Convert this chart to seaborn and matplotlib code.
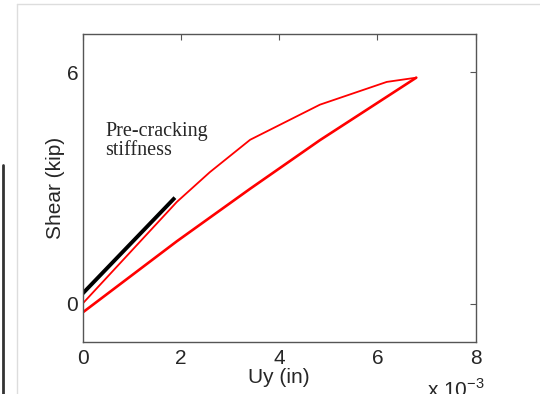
import matplotlib
matplotlib.use("Agg")
import matplotlib.pyplot as plt
import numpy as np
import pandas as pd
import seaborn as sns
from matplotlib.lines import Line2D

# loading branch (thin red), displacement in 1e-3 in
load_uy = [0.0, 1.92, 2.59, 3.41, 4.83, 6.19, 6.79]
load_shear = [0.0, 2.64, 3.41, 4.25, 5.16, 5.75, 5.86]

# unloading branch (thicker red)
unload_uy = [6.79, 4.83, 3.41, 1.92, 0.0]
unload_shear = [5.86, 4.24, 2.98, 1.62, -0.23]

# pre-cracking stiffness line (black)
stiff_uy = [0.0, 1.88]
stiff_shear = [0.26, 2.75]

x_ticks = [0, 2, 4, 6, 8]
y_ticks = [0, 6]

sns.set_style("white")
plt.rcParams["font.family"] = ["Liberation Sans", "DejaVu Sans"]

fig = plt.figure(figsize=(5.4, 3.94), dpi=100)
ax = fig.add_axes([0.1528, 0.1312, 0.7282, 0.7833])

d_load = pd.DataFrame({"uy": load_uy, "shear": load_shear})
d_unload = pd.DataFrame({"uy": unload_uy, "shear": unload_shear})
d_stiff = pd.DataFrame({"uy": stiff_uy, "shear": stiff_shear})

sns.lineplot(data=d_load, x="uy", y="shear", sort=False, color="red", linewidth=1.3, ax=ax)
sns.lineplot(data=d_unload, x="uy", y="shear", sort=False, color="red", linewidth=1.9, ax=ax)
sns.lineplot(data=d_stiff, x="uy", y="shear", sort=False, color="black", linewidth=2.8,
             solid_capstyle="butt", ax=ax)

ax.set_xlim(0, 8)
ax.set_ylim(-1, 7)
ax.set_xticks(x_ticks)
ax.set_yticks(y_ticks)
ax.tick_params(direction="in", length=4, width=0.8, color="#555555",
               top=True, right=True, labelsize=15)
ax.tick_params(axis="x", pad=5)
ax.tick_params(axis="y", pad=3)
for s in ax.spines.values():
    s.set_color("#555555")
    s.set_linewidth(1.0)

ax.set_xlabel("Uy (in)", fontsize=15, labelpad=0)
ax.set_ylabel("Shear (kip)", fontsize=15, labelpad=1)

ax.text(0.46, 4.72, "Pre-cracking\nstiffness", family="Liberation Serif", fontsize=14.5,
        va="top", ha="left", linespacing=1.0)

fig.text(0.79, 0.04, r"x 10$^{\mathregular{-3}}$", fontsize=15, va="top", ha="left")

# screenshot frame lines
fig.add_artist(Line2D([17 / 540, 17 / 540], [0, 1 - 4 / 394], color="#dddddd", linewidth=1))
fig.add_artist(Line2D([17 / 540, 1], [1 - 4 / 394, 1 - 4 / 394], color="#dddddd", linewidth=1))
fig.add_artist(Line2D([3 / 540, 3 / 540], [0, 1 - 165 / 394], color="#333333", linewidth=2))

fig.savefig("out.png", dpi=100)
